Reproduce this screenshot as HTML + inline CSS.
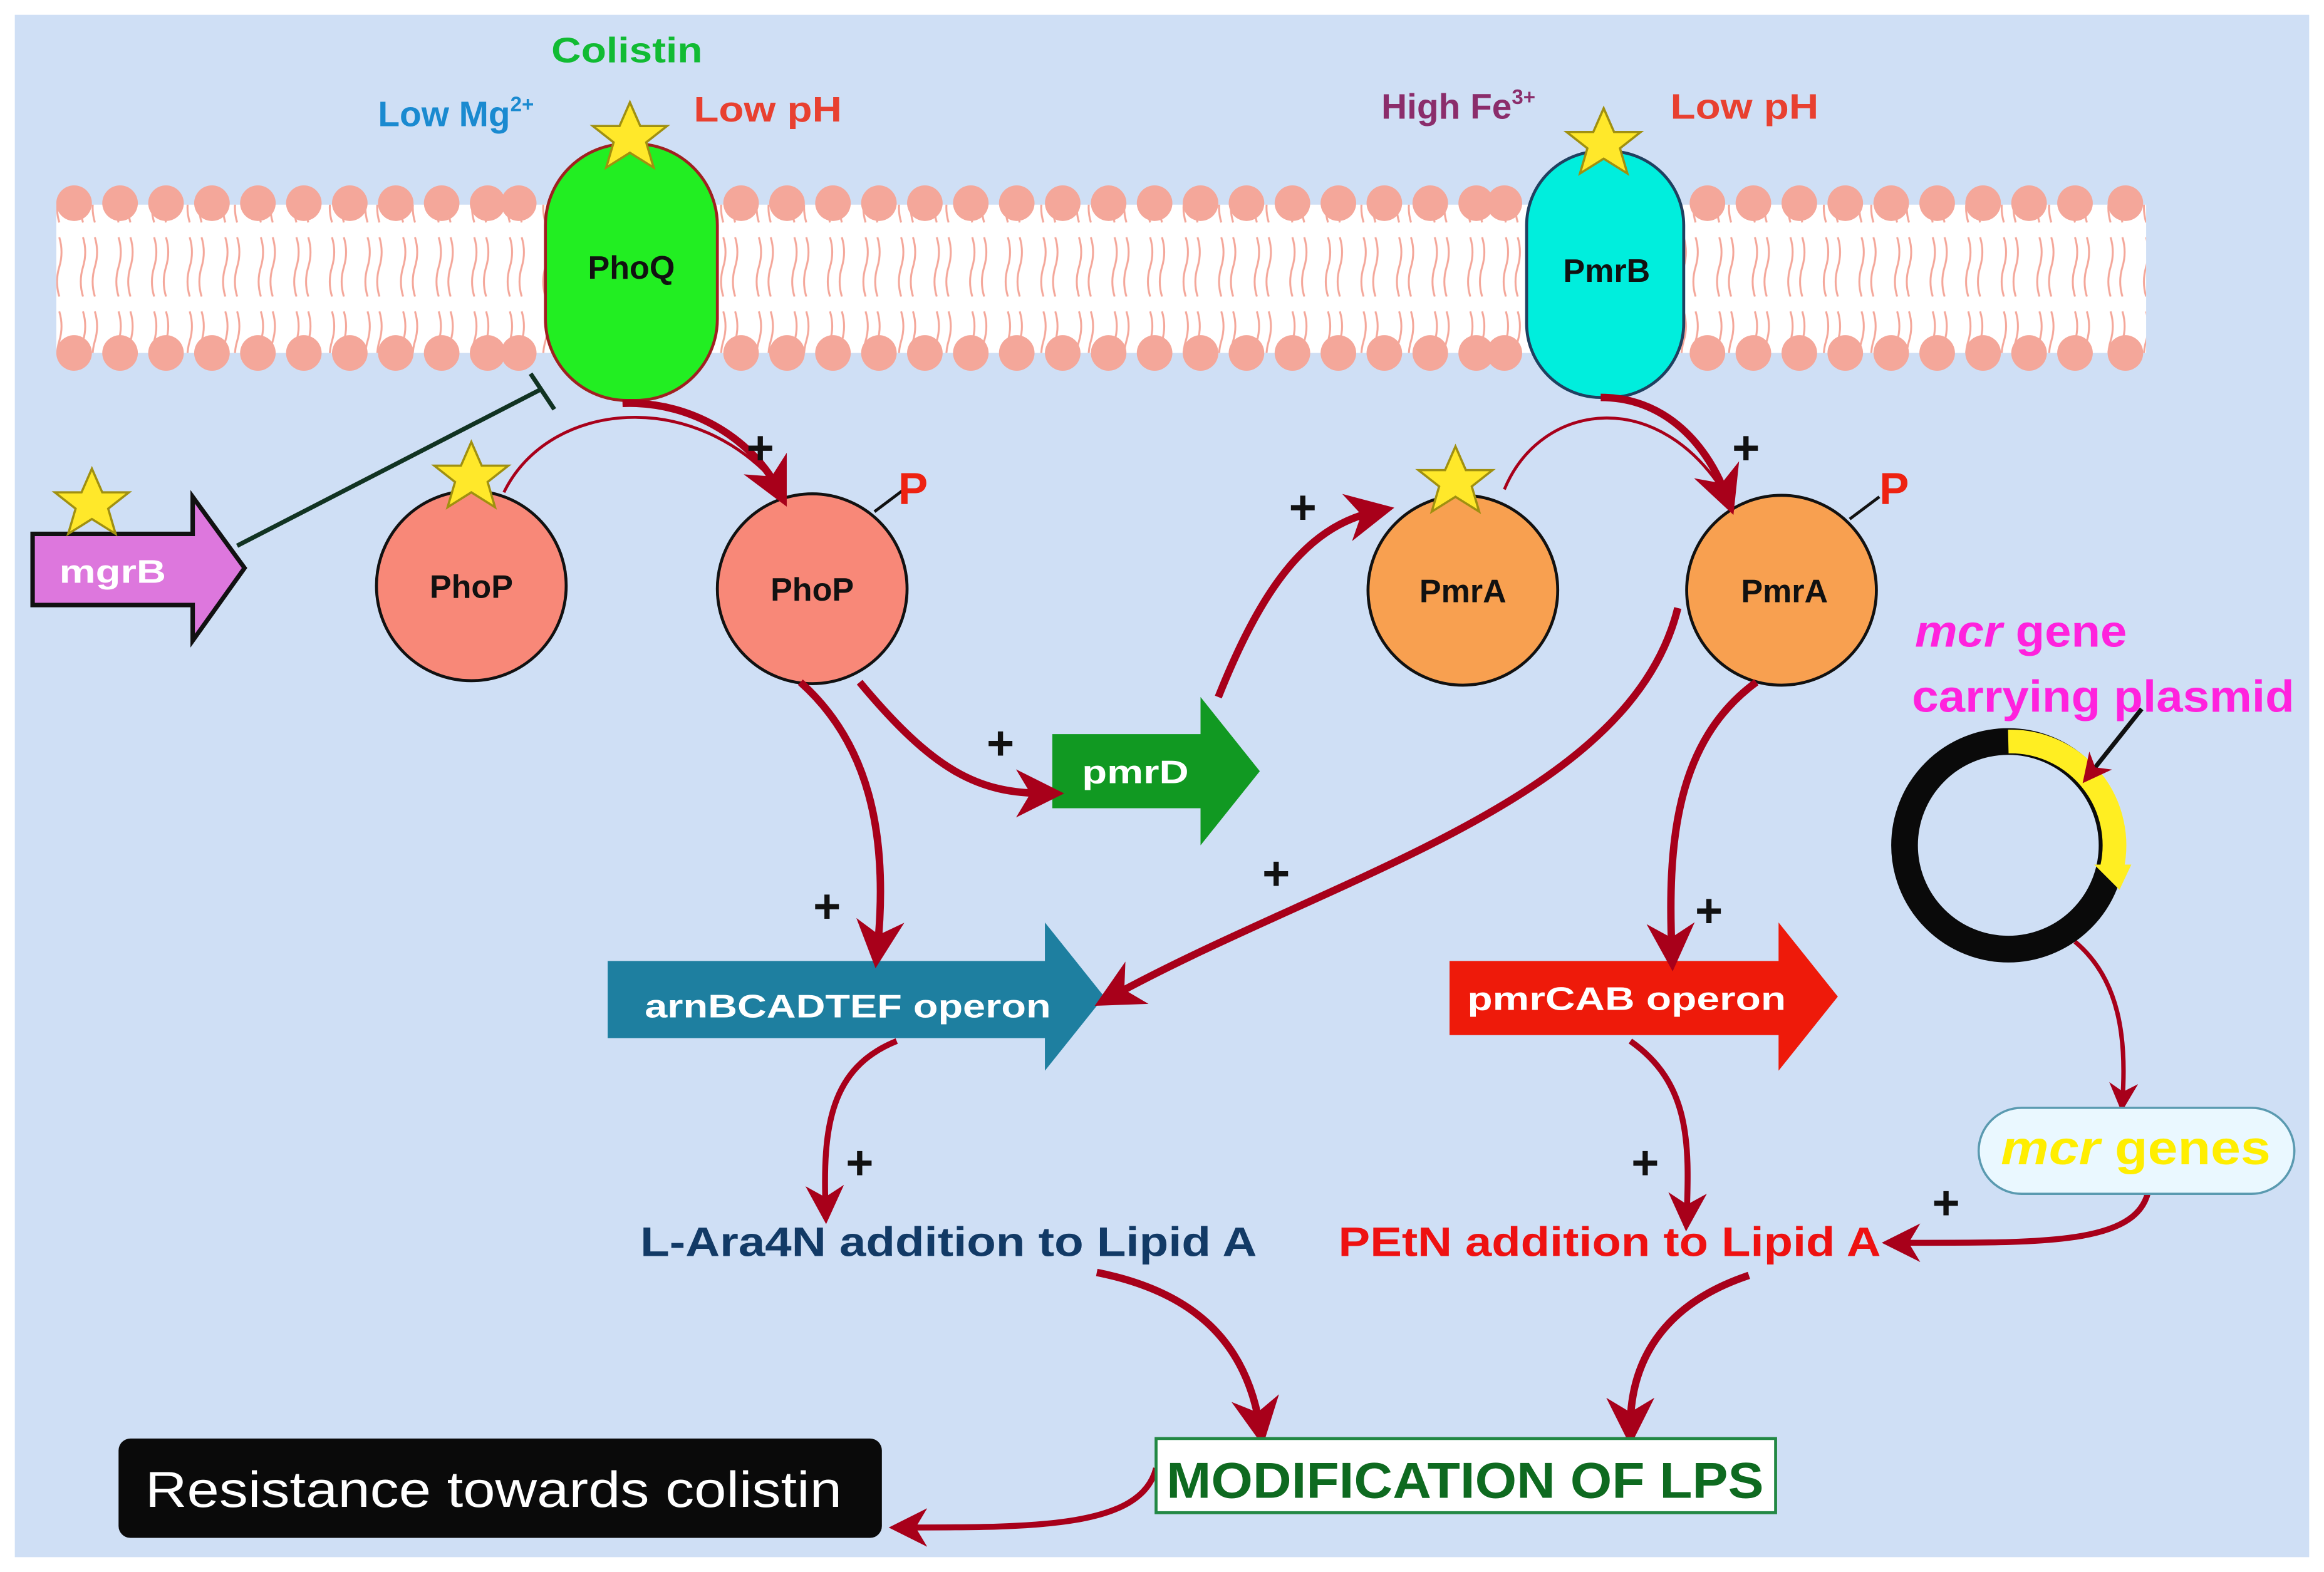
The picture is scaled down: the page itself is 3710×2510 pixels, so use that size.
<!DOCTYPE html>
<html><head><meta charset="utf-8">
<style>
html,body{margin:0;padding:0;background:#fff;}
svg{display:block;}
text{font-family:"Liberation Sans",sans-serif;font-weight:bold;}
</style></head>
<body>
<svg width="3710" height="2510" viewBox="0 0 1568 1060" preserveAspectRatio="none" xmlns="http://www.w3.org/2000/svg">
<defs>
<marker id="ah" viewBox="0 0 10 10" refX="6" refY="5" markerWidth="6.5" markerHeight="6.5" orient="auto-start-reverse">
<path d="M0,0 L10,5 L0,10 L3,5 z" fill="#a8001a"/>
</marker>
<pattern id="tails" x="0" y="0" width="24" height="100" patternUnits="userSpaceOnUse">
<path d="M8,10 q3,10 0,20 q-3,10 0,20 M16,10 q3,10 0,20 q-3,10 0,20 M8,60 q3,10 0,20 q-3,10 0,20 M16,60 q3,10 0,20 q-3,10 0,20" stroke="#f4a79a" stroke-width="1.3" fill="none"/>
</pattern>
<g id="star"><polygon points="0,-24 7,-8 25,-8 11,3 16,20 0,10 -16,20 -11,3 -25,-8 -7,-8" fill="#ffe82a" stroke="#a09010" stroke-width="1.5"/></g>
</defs>
<rect x="0" y="0" width="1568" height="1060" fill="#fff"/>
<rect x="10" y="10" width="1548" height="1040" fill="#cfdff5"/>

<rect x="38" y="138" width="1410" height="100" fill="#fff"/>
<rect x="38" y="138" width="1410" height="100" fill="url(#tails)"/>
<g fill="#f4a79a">
<circle cx="50" cy="137" r="12"/><circle cx="81" cy="137" r="12"/><circle cx="112" cy="137" r="12"/><circle cx="143" cy="137" r="12"/><circle cx="174" cy="137" r="12"/><circle cx="205" cy="137" r="12"/><circle cx="236" cy="137" r="12"/><circle cx="267" cy="137" r="12"/><circle cx="298" cy="137" r="12"/><circle cx="329" cy="137" r="12"/><circle cx="350" cy="137" r="12"/>
<circle cx="500" cy="137" r="12"/><circle cx="531" cy="137" r="12"/><circle cx="562" cy="137" r="12"/><circle cx="593" cy="137" r="12"/><circle cx="624" cy="137" r="12"/><circle cx="655" cy="137" r="12"/><circle cx="686" cy="137" r="12"/><circle cx="717" cy="137" r="12"/><circle cx="748" cy="137" r="12"/><circle cx="779" cy="137" r="12"/><circle cx="810" cy="137" r="12"/><circle cx="841" cy="137" r="12"/><circle cx="872" cy="137" r="12"/><circle cx="903" cy="137" r="12"/><circle cx="934" cy="137" r="12"/><circle cx="965" cy="137" r="12"/><circle cx="996" cy="137" r="12"/><circle cx="1015" cy="137" r="12"/>
<circle cx="1152" cy="137" r="12"/><circle cx="1183" cy="137" r="12"/><circle cx="1214" cy="137" r="12"/><circle cx="1245" cy="137" r="12"/><circle cx="1276" cy="137" r="12"/><circle cx="1307" cy="137" r="12"/><circle cx="1338" cy="137" r="12"/><circle cx="1369" cy="137" r="12"/><circle cx="1400" cy="137" r="12"/><circle cx="1434" cy="137" r="12"/>
<circle cx="50" cy="238" r="12"/><circle cx="81" cy="238" r="12"/><circle cx="112" cy="238" r="12"/><circle cx="143" cy="238" r="12"/><circle cx="174" cy="238" r="12"/><circle cx="205" cy="238" r="12"/><circle cx="236" cy="238" r="12"/><circle cx="267" cy="238" r="12"/><circle cx="298" cy="238" r="12"/><circle cx="329" cy="238" r="12"/><circle cx="350" cy="238" r="12"/>
<circle cx="500" cy="238" r="12"/><circle cx="531" cy="238" r="12"/><circle cx="562" cy="238" r="12"/><circle cx="593" cy="238" r="12"/><circle cx="624" cy="238" r="12"/><circle cx="655" cy="238" r="12"/><circle cx="686" cy="238" r="12"/><circle cx="717" cy="238" r="12"/><circle cx="748" cy="238" r="12"/><circle cx="779" cy="238" r="12"/><circle cx="810" cy="238" r="12"/><circle cx="841" cy="238" r="12"/><circle cx="872" cy="238" r="12"/><circle cx="903" cy="238" r="12"/><circle cx="934" cy="238" r="12"/><circle cx="965" cy="238" r="12"/><circle cx="996" cy="238" r="12"/><circle cx="1015" cy="238" r="12"/>
<circle cx="1152" cy="238" r="12"/><circle cx="1183" cy="238" r="12"/><circle cx="1214" cy="238" r="12"/><circle cx="1245" cy="238" r="12"/><circle cx="1276" cy="238" r="12"/><circle cx="1307" cy="238" r="12"/><circle cx="1338" cy="238" r="12"/><circle cx="1369" cy="238" r="12"/><circle cx="1400" cy="238" r="12"/><circle cx="1434" cy="238" r="12"/>
</g>

<rect x="368" y="97" width="116" height="173" rx="55" fill="#22ee22" stroke="#a02020" stroke-width="2"/>
<text x="426" y="188" font-size="22" text-anchor="middle" fill="#111">PhoQ</text>
<use href="#star" x="425" y="93"/>
<rect x="1030" y="102" width="106" height="166" rx="50" fill="#00eedd" stroke="#204060" stroke-width="2"/>
<text x="1084" y="190" font-size="22" text-anchor="middle" fill="#111">PmrB</text>
<use href="#star" x="1082" y="97"/>

<text x="372" y="42" font-size="24" textLength="102" lengthAdjust="spacingAndGlyphs" fill="#11bb33">Colistin</text>
<text x="255" y="85" font-size="24" fill="#1a8ad0">Low Mg<tspan font-size="14" dy="-10">2+</tspan></text>
<text x="468" y="82" font-size="24" textLength="100" lengthAdjust="spacingAndGlyphs" fill="#e84030">Low pH</text>
<text x="932" y="80" font-size="24" fill="#8b2d6b">High Fe<tspan font-size="14" dy="-10">3+</tspan></text>
<text x="1127" y="80" font-size="24" textLength="100" lengthAdjust="spacingAndGlyphs" fill="#e84030">Low pH</text>

<polygon points="22,360 130,360 130,335 165,383 130,432 130,408 22,408" fill="#dd77dd" stroke="#111" stroke-width="3"/>
<text x="40" y="393" font-size="22" textLength="72" lengthAdjust="spacingAndGlyphs" fill="#fff">mgrB</text>
<use href="#star" x="62" y="340"/>
<line x1="160" y1="368" x2="366" y2="262" stroke="#113322" stroke-width="3"/>
<line x1="358" y1="252" x2="374" y2="276" stroke="#113322" stroke-width="3"/>

<circle cx="318" cy="395" r="64" fill="#f88878" stroke="#111" stroke-width="2"/>
<text x="318" y="403" font-size="22" text-anchor="middle" fill="#111">PhoP</text>
<use href="#star" x="318" y="322"/>
<circle cx="548" cy="397" r="64" fill="#f88878" stroke="#111" stroke-width="2"/>
<text x="548" y="405" font-size="22" text-anchor="middle" fill="#111">PhoP</text>
<circle cx="987" cy="398" r="64" fill="#f8a050" stroke="#111" stroke-width="2"/>
<text x="987" y="406" font-size="22" text-anchor="middle" fill="#111">PmrA</text>
<use href="#star" x="982" y="325"/>
<circle cx="1202" cy="398" r="64" fill="#f8a050" stroke="#111" stroke-width="2"/>
<text x="1204" y="406" font-size="22" text-anchor="middle" fill="#111">PmrA</text>
<line x1="590" y1="345" x2="610" y2="330" stroke="#111" stroke-width="2"/>
<text x="606" y="340" font-size="30" fill="#ee2211">P</text>
<line x1="1248" y1="350" x2="1268" y2="335" stroke="#111" stroke-width="2"/>
<text x="1268" y="340" font-size="30" fill="#ee2211">P</text>

<path d="M340,332 C370,270 470,260 527,330" stroke="#a8001a" stroke-width="2" fill="none"/>
<path d="M420,272 C470,270 510,300 525,330" stroke="#a8001a" stroke-width="5" fill="none" marker-end="url(#ah)"/>
<path d="M1015,330 C1040,270 1120,260 1165,335" stroke="#a8001a" stroke-width="2" fill="none"/>
<path d="M1080,268 C1120,268 1150,295 1165,335" stroke="#a8001a" stroke-width="5" fill="none" marker-end="url(#ah)"/>

<polygon points="710,495 810,495 810,470 850,520 810,570 810,545 710,545" fill="#119922"/>
<text x="730" y="528" font-size="22" textLength="72" lengthAdjust="spacingAndGlyphs" fill="#fff">pmrD</text>
<polygon points="410,648 705,648 705,622 745,672 705,722 705,700 410,700" fill="#1e7fa0"/>
<text x="435" y="686" font-size="22" textLength="274" lengthAdjust="spacingAndGlyphs" fill="#fff">arnBCADTEF operon</text>
<polygon points="978,648 1200,648 1200,622 1240,672 1200,722 1200,698 978,698" fill="#ee1a0a"/>
<text x="990" y="681" font-size="22" textLength="215" lengthAdjust="spacingAndGlyphs" fill="#fff">pmrCAB operon</text>

<path d="M580,460 C630,520 660,535 705,535" stroke="#a8001a" stroke-width="5" fill="none" marker-end="url(#ah)"/>
<path d="M822,470 C850,400 880,355 928,345" stroke="#a8001a" stroke-width="5" fill="none" marker-end="url(#ah)"/>
<path d="M540,460 C585,500 600,560 592,640" stroke="#a8001a" stroke-width="5" fill="none" marker-end="url(#ah)"/>
<path d="M1132,410 C1100,540 900,590 750,672" stroke="#a8001a" stroke-width="5" fill="none" marker-end="url(#ah)"/>
<path d="M1185,460 C1130,500 1125,570 1128,642" stroke="#a8001a" stroke-width="5" fill="none" marker-end="url(#ah)"/>
<path d="M605,702 C560,720 555,760 557,815" stroke="#a8001a" stroke-width="4" fill="none" marker-end="url(#ah)"/>
<path d="M1100,702 C1140,730 1140,770 1138,820" stroke="#a8001a" stroke-width="4" fill="none" marker-end="url(#ah)"/>
<path d="M740,858 C800,870 840,900 850,962" stroke="#a8001a" stroke-width="5" fill="none" marker-end="url(#ah)"/>
<path d="M1180,860 C1120,880 1100,920 1100,962" stroke="#a8001a" stroke-width="5" fill="none" marker-end="url(#ah)"/>
<path d="M1400,635 C1430,660 1435,700 1432,742" stroke="#a8001a" stroke-width="3" fill="none" marker-end="url(#ah)"/>
<path d="M1450,800 C1445,840 1380,838 1280,838" stroke="#a8001a" stroke-width="4" fill="none" marker-end="url(#ah)"/>
<path d="M780,990 C770,1030 700,1030 610,1030" stroke="#a8001a" stroke-width="4" fill="none" marker-end="url(#ah)"/>

<g font-size="32" fill="#111" text-anchor="middle">
<text x="513" y="313">+</text><text x="1178" y="313">+</text>
<text x="879" y="353">+</text><text x="675" y="512">+</text>
<text x="558" y="622">+</text><text x="861" y="600">+</text>
<text x="1153" y="625">+</text><text x="580" y="795">+</text>
<text x="1110" y="795">+</text><text x="1313" y="822">+</text>
</g>

<circle cx="1355" cy="570" r="70" fill="none" stroke="#0a0a0a" stroke-width="18"/>
<path d="M1355,500 A70,70 0 0 1 1425,585" fill="none" stroke="#ffee22" stroke-width="16"/>
<polygon points="1413,583 1438,583 1430,600" fill="#ffee22"/>
<line x1="1445" y1="478" x2="1410" y2="522" stroke="#111" stroke-width="3" marker-end="url(#ah)"/>
<text x="1292" y="436" font-size="30" textLength="143" lengthAdjust="spacingAndGlyphs" fill="#ff22dd"><tspan font-style="italic">mcr</tspan> gene</text>
<text x="1290" y="480" font-size="30" textLength="258" lengthAdjust="spacingAndGlyphs" fill="#ff22dd">carrying plasmid</text>

<rect x="1335" y="747" width="213" height="58" rx="29" fill="#eaf8ff" stroke="#5a9ab0" stroke-width="1.5"/>
<text x="1350" y="785" font-size="32" textLength="182" lengthAdjust="spacingAndGlyphs" fill="#ffee00"><tspan font-style="italic">mcr</tspan> genes</text>

<text x="432" y="847" font-size="28" textLength="416" lengthAdjust="spacingAndGlyphs" fill="#123a66">L-Ara4N addition to Lipid A</text>
<text x="903" y="847" font-size="28" textLength="366" lengthAdjust="spacingAndGlyphs" fill="#ee1111">PEtN addition to Lipid A</text>

<rect x="780" y="970" width="418" height="50" fill="#fff" stroke="#228844" stroke-width="2"/>
<text x="787" y="1010" font-size="34" textLength="403" lengthAdjust="spacingAndGlyphs" fill="#0e6a20">MODIFICATION OF LPS</text>
<rect x="80" y="970" width="515" height="67" rx="8" fill="#0a0a0a"/>
<text x="98" y="1016" font-size="34" textLength="470" lengthAdjust="spacingAndGlyphs" style="font-weight:normal" fill="#fff">Resistance towards colistin</text>
</svg>
</body></html>
